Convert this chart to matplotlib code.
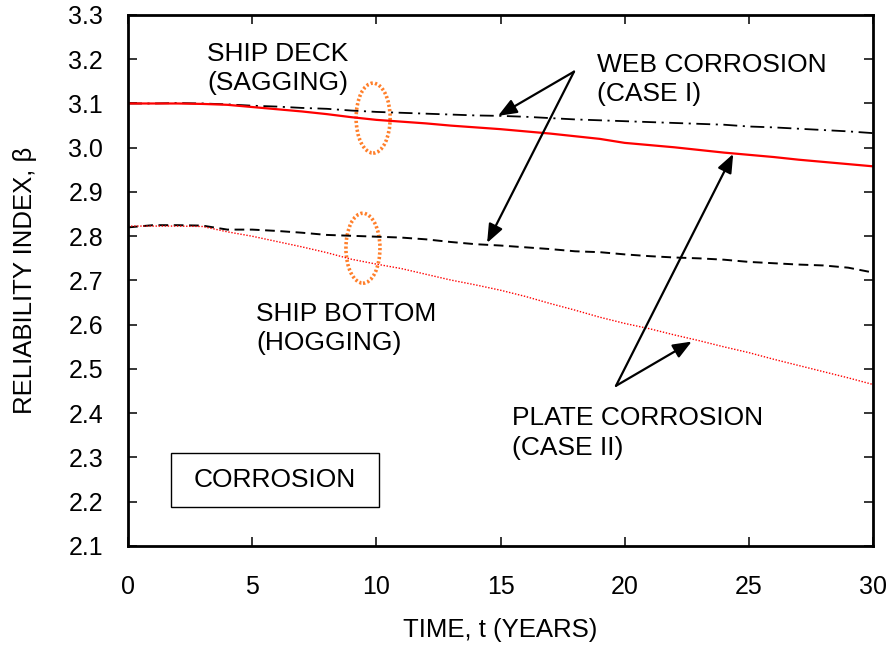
import matplotlib

matplotlib.use("Agg")
import matplotlib.pyplot as plt
from matplotlib.patches import Ellipse, Rectangle
from matplotlib.ticker import FormatStrFormatter, MultipleLocator

plt.rcParams["font.family"] = ["Liberation Sans", "DejaVu Sans"]
plt.rcParams["lines.scale_dashes"] = False

# time in years
years = list(range(0, 31))

# ship deck (sagging)
deck_web = [3.100, 3.100, 3.101, 3.100, 3.098, 3.095, 3.093, 3.090, 3.088, 3.084,
            3.081, 3.079, 3.077, 3.075, 3.073, 3.072, 3.070, 3.067, 3.064, 3.062,
            3.060, 3.058, 3.056, 3.054, 3.052, 3.048, 3.046, 3.043, 3.040, 3.037, 3.033]
deck_plate = [3.100, 3.100, 3.100, 3.099, 3.097, 3.092, 3.087, 3.082, 3.076, 3.069,
              3.063, 3.059, 3.055, 3.050, 3.046, 3.042, 3.037, 3.032, 3.026, 3.020,
              3.011, 3.006, 3.001, 2.995, 2.989, 2.984, 2.979, 2.973, 2.968, 2.963, 2.958]

# ship bottom (hogging)
bottom_web = [2.820, 2.825, 2.825, 2.824, 2.815, 2.815, 2.812, 2.808, 2.803, 2.801,
              2.799, 2.797, 2.793, 2.787, 2.782, 2.779, 2.775, 2.771, 2.766, 2.764,
              2.759, 2.755, 2.752, 2.750, 2.747, 2.742, 2.739, 2.736, 2.734, 2.729, 2.718]
bottom_plate = [2.823, 2.823, 2.823, 2.822, 2.810, 2.800, 2.788, 2.776, 2.763, 2.748,
                2.737, 2.727, 2.714, 2.701, 2.690, 2.678, 2.664, 2.648, 2.633, 2.617,
                2.603, 2.591, 2.577, 2.564, 2.550, 2.537, 2.522, 2.508, 2.494, 2.480, 2.465]

RED = "#FF0000"
ORANGE = "#FF7F2A"
FS = 19

fig = plt.figure(figsize=(8.91, 6.46), dpi=100)
ax = fig.add_axes([0.1437, 0.1548, 0.8361, 0.8220])

ax.plot(years, deck_web, color="black", lw=1.3, dashes=(10, 4, 1.5, 4))
ax.plot(years, deck_plate, color=RED, lw=1.6)
ax.plot(years, bottom_web, color="black", lw=1.4, dashes=(7, 4))
ax.plot(years, bottom_plate, color=RED, lw=1.0, dashes=(1, 1.2))

ax.set_xlim(0, 30)
ax.set_ylim(2.1, 3.3)
ax.xaxis.set_major_locator(MultipleLocator(5))
ax.yaxis.set_major_locator(MultipleLocator(0.1))
ax.yaxis.set_major_formatter(FormatStrFormatter("%.1f"))
ax.tick_params(axis="both", which="both", direction="in", top=True, right=True,
               length=6.5, width=1.1, labelsize=18)
ax.tick_params(axis="x", pad=21)
ax.tick_params(axis="y", pad=18)
for spine in ax.spines.values():
    spine.set_linewidth(2.0)

ax.set_xlabel("TIME, t (YEARS)", fontsize=18.5)
ax.set_ylabel("RELIABILITY INDEX, \u03b2", fontsize=18.5)
ax.xaxis.set_label_coords(0.5, -0.136)
ax.yaxis.set_label_coords(-0.122, 0.5)

# orange dotted ellipses marking the groups
for cx, cy in [(9.87, 3.067), (9.46, 2.773)]:
    ax.add_patch(Ellipse((cx, cy), 1.37, 0.158, fill=False, edgecolor=ORANGE,
                         lw=2.6, linestyle=(0, (1.6, 1.6))))

ax.text(3.18, 3.240, "SHIP DECK\n(SAGGING)", fontsize=FS, va="top", ha="left", linespacing=1.3)
ax.text(18.89, 3.215, "WEB CORROSION\n(CASE I)", fontsize=FS, va="top", ha="left", linespacing=1.3)
ax.text(5.155, 2.652, "SHIP BOTTOM\n(HOGGING)", fontsize=FS, va="top", ha="left", linespacing=1.3)
ax.text(15.47, 2.416, "PLATE CORROSION\n(CASE II)", fontsize=FS, va="top", ha="left", linespacing=1.3)

ax.add_patch(Rectangle((1.73, 2.188), 8.37, 0.122, fill=False, edgecolor="black", lw=1.0))
ax.text(5.92, 2.249, "CORROSION", fontsize=FS, va="center", ha="center")

arrow = dict(arrowstyle="-|>,head_length=0.75,head_width=0.3", mutation_scale=15,
             color="black", lw=1.6, shrinkA=0, shrinkB=0)
ax.annotate("", xy=(14.9, 3.072), xytext=(17.96, 3.172), arrowprops=arrow)
ax.annotate("", xy=(14.46, 2.785), xytext=(17.96, 3.172), arrowprops=arrow)
ax.annotate("", xy=(24.37, 2.986), xytext=(19.65, 2.462), arrowprops=arrow)
ax.annotate("", xy=(22.7, 2.562), xytext=(19.65, 2.462), arrowprops=arrow)

fig.savefig("out.png", dpi=100)
